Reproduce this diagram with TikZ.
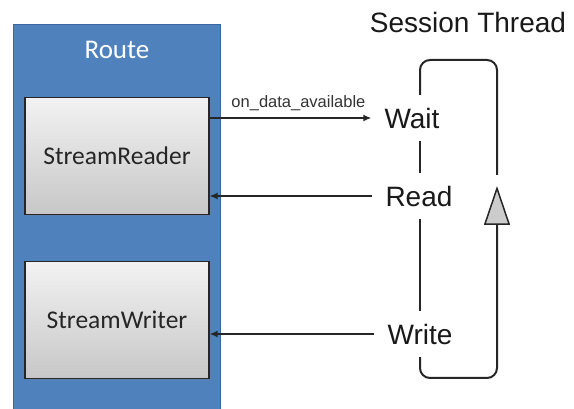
\documentclass[tikz,border=0pt]{standalone}
\usepackage{fontspec}
\setmainfont{Liberation Sans}
\newfontfamily\calibrifont{Carlito}
\usetikzlibrary{positioning, arrows.meta, shadows}

\definecolor{routeblue}{HTML}{4F81BD}
\definecolor{routeedge}{HTML}{3B67A2}

\tikzset{
	routebox/.style={draw=routeedge, fill=routeblue, line width=1pt, anchor=north west,
		minimum width=207pt, minimum height=400pt},
	streambox/.style={draw=black!85, line width=1.2pt, top color=black!5, bottom color=black!22,
		minimum width=184pt, minimum height=117pt, inner sep=0pt,
		font=\calibrifont\fontsize{25.5pt}{25.5pt}\selectfont, text=black!85,
		drop shadow={shadow xshift=1.5pt, shadow yshift=-1.5pt, opacity=0.25}},
	state/.style={inner sep=0pt, minimum height=46pt, text=black!90,
		font=\fontsize{28pt}{28pt}\selectfont},
	call/.style={line width=1.5pt, black!85, -{Latex[length=8pt, width=7pt]}},
	thread/.style={line width=2pt, black!85, rounded corners=10pt},
}

\begin{document}
\begin{tikzpicture}[x=1pt, y=-1pt]
	\clip (0,0) rectangle (574,409);

	% Route with its two streams
	\node[routebox] (route) at (13,24) {};
	\node[text=white, font=\calibrifont\fontsize{27pt}{27pt}\selectfont,
		below=14pt of route.north] (routetitle) {Route};
	\node[streambox, below=73pt of route.north] (reader) {StreamReader};
	\node[streambox, below=46pt of reader] (writer) {StreamWriter};

	% Session thread states
	\node[font=\fontsize{28pt}{28pt}\selectfont, text=black!90] (session) at (468,22) {Session Thread};
	\node[state] (wait) at (412,118) {Wait};
	\node[state] (read) at (419,196) {Read};
	\node[state] (write) at (420,334) {Write};

	\coordinate (tl) at (420,60);
	\coordinate (tr) at (497,60);
	\coordinate (bl) at (420,378);
	\coordinate (br) at (497,378);
	\coordinate (tip) at (497,186);

	% the loop
	\draw[thread] (wait.north -| tl) -- (tl) -- (tr) -- ([yshift=11pt]tip);
	\draw[thread] (wait.south -| tl) -- (read.north -| tl);
	\draw[thread] (read.south -| tl) -- (write.north -| tl);
	\draw[thread, -{Triangle[length=39pt, width=26pt, fill=black!20, line width=1.5pt]}]
		(write.south -| bl) -- (bl) -- (br) -- (tip);

	% calls between the route and the thread
	\draw[call] (reader.east |- wait.west) -- node[above=3pt, xshift=8pt,
		font=\fontsize{16.5pt}{16.5pt}\selectfont, text=black!80] (callback) {on\_data\_available}
		([xshift=-13pt]wait.west);
	\draw[call] ([xshift=-13pt]read.west) -- (read.west -| reader.east);
	\draw[call] ([xshift=-13pt]write.west) -- (write.west -| writer.east);
\end{tikzpicture}
\end{document}
